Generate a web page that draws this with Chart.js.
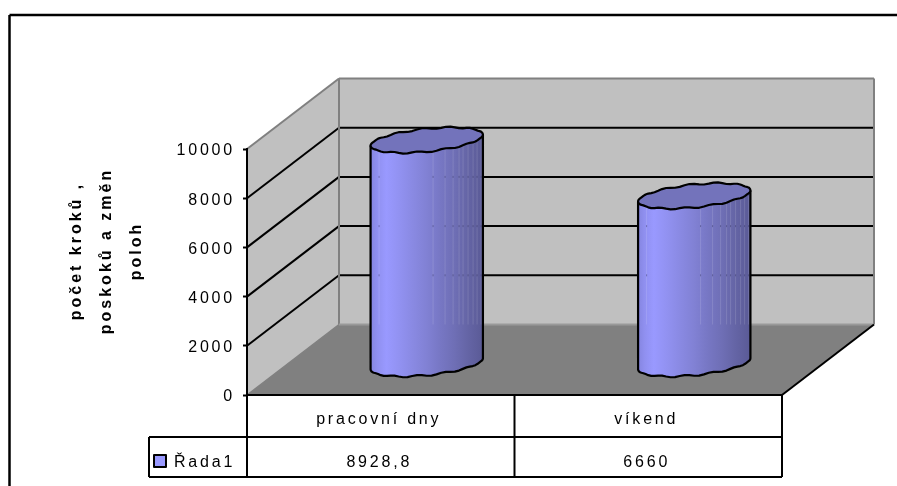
<!DOCTYPE html>
<html>
<head>
<meta charset="utf-8">
<title>Počet kroků</title>
<script src="https://cdn.jsdelivr.net/npm/chart.js@4"></script>
<style>
html, body { margin: 0; padding: 0; background: #fff; }
canvas { display: block; }
</style>
</head>
<body>
<canvas id="chart" width="897" height="486"></canvas>
<script>
const categories = ['pracovní dny', 'víkend'];
const seriesName = 'Řada1';
const seriesValues = [8928.8, 6660];
const yMin = 0;
const yMax = 10000;
const yStep = 2000;
const yTitleLines = ['počet kroků ,', 'poskoků a změn', 'poloh'];

// 3D box depth, front plane to back wall
const DEPTH_X = 92;
const DEPTH_Y = 70.5;
const BASE_DROP = 4.5;
const TABLE_ROW = 437;
const TABLE_BOTTOM = 477;
const TABLE_LEFT = 149;

// light streaks on the cylinder body, as px from its left edge
const streaks = [8, 62, 74, 82, 88, 92, 97, 102, 106, 110];
const bodyStops = [
    [0, '#8585E0'], [0.06, '#9090F0'], [0.14, '#9999FF'], [0.25, '#9292F2'], [0.38, '#8989E2'],
    [0.5, '#8181D4'], [0.62, '#7777C4'], [0.74, '#6F6FB6'], [0.86, '#6565A6'], [1, '#5A5A96']
];

function formatValue(v) {
    return String(v).replace('.', ',');
}

function line(ctx, x1, y1, x2, y2, color, width) {
    ctx.strokeStyle = color;
    ctx.lineWidth = width;
    ctx.beginPath();
    ctx.moveTo(x1, y1);
    ctx.lineTo(x2, y2);
    ctx.stroke();
}

function poly(ctx, pts, fill) {
    ctx.fillStyle = fill;
    ctx.beginPath();
    pts.forEach((p, i) => i ? ctx.lineTo(p[0], p[1]) : ctx.moveTo(p[0], p[1]));
    ctx.closePath();
    ctx.fill();
}

// tilted rim of the cylinder, with the slight ripple of a faceted edge
function rimPoint(cx, cy, rx, t) {
    const x = cx + rx * Math.cos(t);
    const y = cy - 5.5 * Math.cos(t) + 11.5 * Math.sin(t) + 0.9 * Math.sin(13 * t + 1) * Math.abs(Math.sin(t));
    return [x, y];
}

function drawBox(chart) {
    const { ctx, chartArea: a } = chart;
    const y = chart.scales.y;
    const top = y.getPixelForValue(yMax);
    const bottom = y.getPixelForValue(yMin);
    const bx = a.left + DEPTH_X;
    const brx = a.right + DEPTH_X;

    ctx.fillStyle = '#fff';
    ctx.fillRect(0, 0, chart.width, chart.height);

    poly(ctx, [[a.left, top], [bx, top - DEPTH_Y], [bx, bottom - DEPTH_Y], [a.left, bottom]], '#C0C0C0');
    poly(ctx, [[bx, top - DEPTH_Y], [brx, top - DEPTH_Y], [brx, bottom - DEPTH_Y], [bx, bottom - DEPTH_Y]], '#C0C0C0');
    poly(ctx, [[a.left, bottom], [bx, bottom - DEPTH_Y], [brx, bottom - DEPTH_Y], [a.right, bottom]], '#808080');

    // gridlines run along the side wall and across the back
    y.ticks.forEach(t => {
        if (t.value === yMin || t.value === yMax) return;
        const py = y.getPixelForValue(t.value);
        line(ctx, a.left, py, bx, py - DEPTH_Y, '#000', 2);
        line(ctx, bx, py - DEPTH_Y, brx - 1, py - DEPTH_Y, '#000', 2);
    });

    // wall edges
    line(ctx, a.left, top, bx, top - DEPTH_Y, '#808080', 2);
    line(ctx, bx, top - DEPTH_Y, brx, top - DEPTH_Y, '#808080', 2);
    line(ctx, brx, top - DEPTH_Y, brx, bottom - DEPTH_Y, '#808080', 2);
    line(ctx, bx, top - DEPTH_Y, bx, bottom - DEPTH_Y, '#808080', 2);
    line(ctx, a.left, bottom, bx, bottom - DEPTH_Y, '#808080', 1.5);
    line(ctx, bx, bottom - DEPTH_Y, brx, bottom - DEPTH_Y, '#999', 2);
    line(ctx, a.right, bottom, brx, bottom - DEPTH_Y, '#000', 2);
}

function drawCylinders(chart) {
    const { ctx } = chart;
    const y = chart.scales.y;
    const backBottom = y.getPixelForValue(yMin) - DEPTH_Y;
    chart.getDatasetMeta(0).data.forEach(bar => {
        const rx = bar.width / 2;
        const cx = bar.x + DEPTH_X / 2;
        const cyTop = bar.y - DEPTH_Y / 2;
        const cyBase = bar.base - DEPTH_Y / 2 + BASE_DROP;
        const left = cx - rx;
        const steps = 72;

        const grad = ctx.createLinearGradient(left, 0, cx + rx, 0);
        bodyStops.forEach(s => grad.addColorStop(s[0], s[1]));

        // body outline: lower half of the base rim plus the two sides
        const body = [];
        for (let i = 0; i <= steps / 2; i++) {
            body.push(rimPoint(cx, cyBase, rx, i / steps * 2 * Math.PI));
        }
        body.unshift([cx + rx, cyTop - 5.5]);
        body.push([left, cyTop + 5.5]);
        poly(ctx, body, grad);

        streaks.forEach(dx => {
            line(ctx, left + dx + 0.5, cyTop, left + dx + 0.5, backBottom, 'rgba(255,255,255,0.13)', 1);
            y.ticks.forEach(t => {
                const gy = y.getPixelForValue(t.value) - DEPTH_Y;
                if (gy > cyTop + 14 && gy < backBottom) {
                    ctx.fillStyle = 'rgba(40,40,90,0.4)';
                    ctx.fillRect(left + dx, gy - 1, 1, 2);
                }
            });
        });

        ctx.strokeStyle = '#000';
        ctx.lineWidth = 2.2;
        ctx.lineJoin = 'round';
        ctx.beginPath();
        body.forEach((p, i) => i ? ctx.lineTo(p[0], p[1]) : ctx.moveTo(p[0], p[1]));
        ctx.stroke();

        const rim = [];
        for (let i = 0; i < steps; i++) {
            rim.push(rimPoint(cx, cyTop, rx, i / steps * 2 * Math.PI));
        }
        poly(ctx, rim, '#7373BB');
        ctx.stroke();
    });
}

function drawTable(chart) {
    const { ctx, chartArea: a } = chart;
    const bottom = chart.scales.y.getPixelForValue(yMin);
    const x = chart.scales.x;
    const mid = (a.left + a.right) / 2;

    line(ctx, a.left, bottom, a.left, TABLE_BOTTOM, '#000', 2);
    line(ctx, mid, bottom, mid, TABLE_BOTTOM, '#000', 2);
    line(ctx, a.right, bottom, a.right, TABLE_BOTTOM, '#000', 2);
    line(ctx, TABLE_LEFT, TABLE_ROW, a.right, TABLE_ROW, '#000', 2);
    line(ctx, TABLE_LEFT, TABLE_BOTTOM, a.right, TABLE_BOTTOM, '#000', 2);
    line(ctx, TABLE_LEFT, TABLE_ROW, TABLE_LEFT, TABLE_BOTTOM, '#000', 2);

    // legend key and series name
    ctx.fillStyle = '#9999FF';
    ctx.fillRect(154, 455, 12, 12);
    ctx.strokeStyle = '#000';
    ctx.lineWidth = 2;
    ctx.strokeRect(154, 455, 12, 12);

    ctx.fillStyle = '#000';
    ctx.font = '16px "Liberation Sans"';
    ctx.textBaseline = 'alphabetic';
    ctx.textAlign = 'left';
    ctx.fillText(seriesName, 174, 467);

    ctx.textAlign = 'center';
    seriesValues.forEach((v, i) => {
        ctx.fillText(formatValue(v), x.getPixelForValue(i) - 1.5, 467);
    });
}

function drawYTitle(chart) {
    const { ctx } = chart;
    ctx.save();
    ctx.letterSpacing = '3px';
    ctx.fillStyle = '#000';
    ctx.font = 'bold 16px "Liberation Sans"';
    ctx.textAlign = 'center';
    ctx.textBaseline = 'middle';
    ctx.translate(107, 251);
    ctx.rotate(-Math.PI / 2);
    yTitleLines.forEach((txt, i) => ctx.fillText(txt, 0, (i - 1) * 30));
    ctx.restore();
}

const scenePlugin = {
    id: 'scene',
    beforeDraw(chart) {
        chart.ctx.letterSpacing = '2.8px';
        drawBox(chart);
    },
    afterDatasetsDraw(chart) {
        drawCylinders(chart);
    },
    afterDraw(chart) {
        const { ctx } = chart;
        drawTable(chart);
        drawYTitle(chart);
        // chart frame: top and left only
        line(ctx, 9.5, 15, chart.width, 15, '#000', 2.5);
        line(ctx, 9.5, 15, 9.5, chart.height, '#000', 2.5);
    }
};

Chart.defaults.font.family = '"Liberation Sans"';
Chart.defaults.color = '#000';

new Chart(document.getElementById('chart'), {
    type: 'bar',
    data: {
        labels: categories,
        datasets: [{
            label: seriesName,
            data: seriesValues,
            backgroundColor: 'transparent',
            borderWidth: 0,
            categoryPercentage: 1,
            barPercentage: 0.42
        }]
    },
    options: {
        responsive: false,
        animation: false,
        layout: { padding: { top: 149, right: 115, bottom: 0, left: 0 } },
        plugins: { legend: { display: false }, tooltip: { enabled: false } },
        scales: {
            x: {
                afterFit: s => { s.height = 91; },
                grid: { display: false, drawTicks: false },
                border: { color: '#000', width: 2 },
                ticks: { padding: 15, labelOffset: -2, font: { size: 16 }, maxRotation: 0 }
            },
            y: {
                min: yMin,
                max: yMax,
                afterFit: s => { s.width = 247; },
                grid: { drawOnChartArea: false, drawTicks: true, tickLength: 4, tickColor: '#000', tickWidth: 2 },
                border: { color: '#000', width: 2 },
                ticks: { stepSize: yStep, padding: 8, labelOffset: 2, font: { size: 16 }, callback: v => String(v) }
            }
        }
    },
    plugins: [scenePlugin]
});
</script>
</body>
</html>
